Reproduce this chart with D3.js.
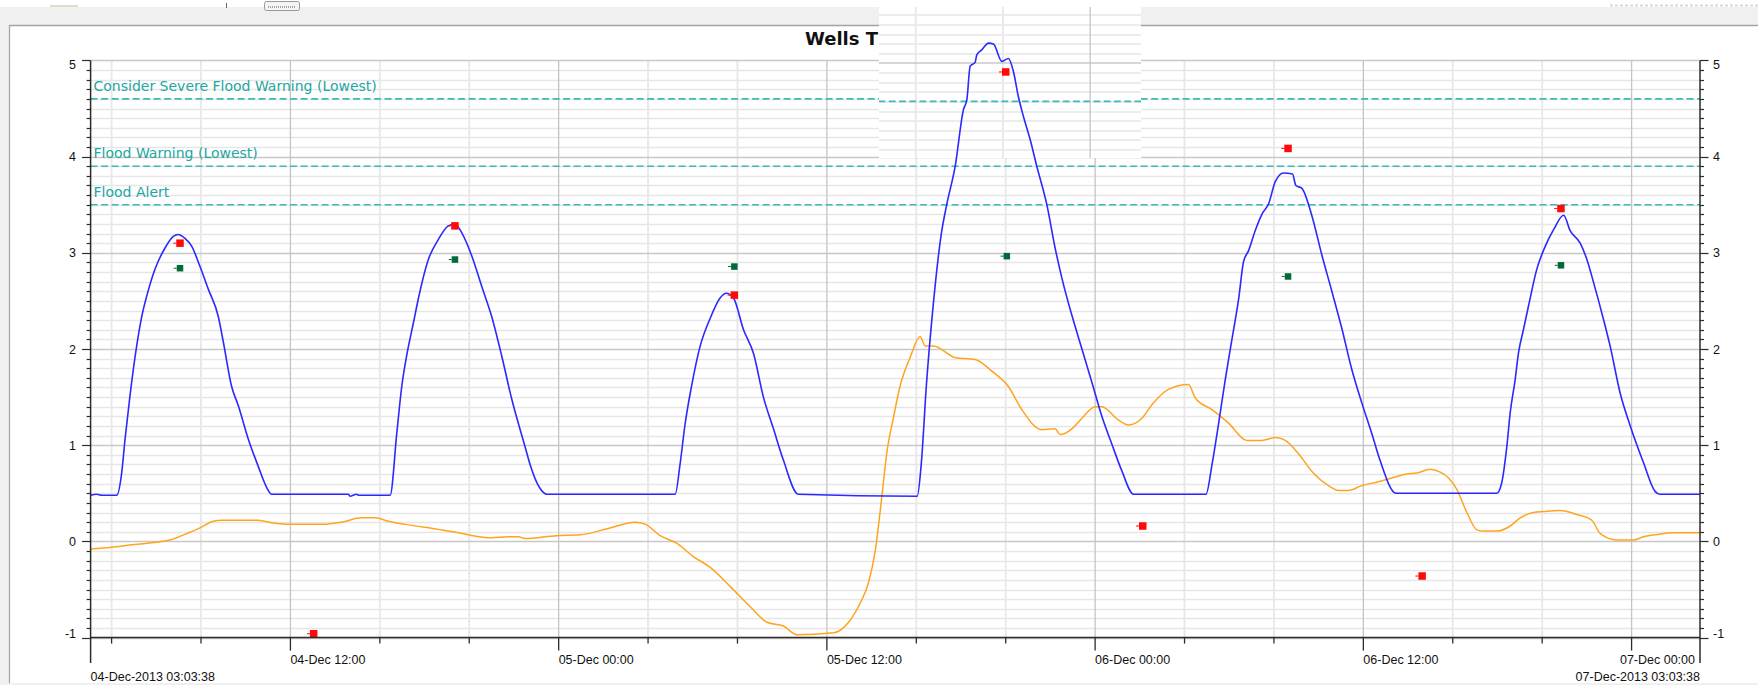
<!DOCTYPE html>
<html><head><meta charset="utf-8">
<script src="https://cdn.jsdelivr.net/npm/d3@7"></script>
<style>html,body{margin:0;padding:0;background:#fff;overflow:hidden}svg{display:block}</style>
</head><body>
<svg id="c" width="1758" height="685"></svg>
<script>
// ---------- DATA ----------
const chartTitle = "Wells Tide Gauge";
const startTime = "2013-12-04T03:03:38";
const endTime = "2013-12-07T03:03:38";
const yTicks = [-1, 0, 1, 2, 3, 4, 5];

// observed level (blue), hours after start
const levelHours = [0,0.27,0.5,1.17,1.39,1.54,1.76,2.06,2.29,2.51,2.88,3.33,3.70,3.92,4.22,4.52,4.89,5.27,5.71,5.94,6.31,6.61,7.06,7.50,7.88,8.10,11.53,11.6,11.9,12.0,13.40,13.70,13.92,14.14,14.44,14.66,15.11,15.56,16.00,16.30,16.60,17.05,17.50,17.94,18.39,18.84,19.43,19.66,20.11,20.41,26.15,26.37,26.59,26.89,27.27,27.72,28.16,28.43,28.76,29.21,29.66,30.10,30.55,31.00,31.66,36.98,37.16,37.39,37.69,38.06,38.30,38.68,39.05,39.20,39.35,39.57,39.65,39.87,40.17,40.39,40.77,41.06,41.28,41.50,41.73,42.03,42.33,42.78,43.15,43.45,43.90,44.35,44.80,45.24,45.69,46.14,46.66,49.90,50.17,50.46,50.76,51.06,51.36,51.58,51.80,52.10,52.40,52.70,53.00,53.37,53.77,53.92,54.19,54.63,55.08,55.53,55.98,56.42,56.87,57.32,57.69,58.40,62.91,63.13,63.36,63.51,63.73,63.88,64.10,64.33,64.70,65.08,65.45,65.90,66.19,66.64,66.94,67.24,67.68,67.98,68.43,68.88,69.47,69.99,70.20,72.00];
const levelValues = [0.48,0.49,0.48,0.48,0.71,1.06,1.51,2.03,2.34,2.55,2.83,3.05,3.17,3.19,3.15,3.07,2.86,2.62,2.34,2.07,1.61,1.41,1.06,0.78,0.56,0.49,0.49,0.47,0.49,0.48,0.48,1.13,1.61,1.93,2.27,2.52,2.93,3.14,3.28,3.30,3.21,2.97,2.65,2.34,1.93,1.48,0.99,0.80,0.55,0.49,0.49,0.80,1.21,1.62,2.03,2.32,2.53,2.58,2.53,2.20,1.95,1.50,1.17,0.84,0.49,0.47,0.80,1.62,2.44,3.20,3.50,3.90,4.49,4.59,4.94,4.98,5.06,5.11,5.18,5.17,4.99,5.02,4.89,4.63,4.42,4.18,3.90,3.50,3.05,2.74,2.35,2.00,1.65,1.30,1.01,0.73,0.49,0.49,0.80,1.22,1.68,2.10,2.52,2.91,3.02,3.23,3.40,3.51,3.74,3.83,3.82,3.70,3.67,3.39,2.98,2.60,2.21,1.79,1.44,1.12,0.84,0.50,0.50,0.61,0.99,1.34,1.68,1.96,2.20,2.45,2.83,3.07,3.24,3.39,3.23,3.10,2.93,2.69,2.31,2.03,1.54,1.20,0.82,0.52,0.49,0.49];

// residual / surge (orange)
const residualHours = [0,0.94,1.84,2.73,3.63,4.22,4.89,5.49,5.86,7.43,8.10,8.99,10.41,11.23,12.13,12.72,13.32,14.07,15.56,16.30,17.20,17.94,18.69,19.14,19.43,20.85,21.90,23.24,24.36,24.81,25.48,26.23,26.98,27.72,28.62,29.51,30.26,31.00,31.60,33.24,33.91,34.43,34.80,35.10,35.40,35.62,35.92,36.22,36.66,37.11,37.34,37.71,38.68,39.57,40.32,41.06,41.66,42.55,43.15,43.37,43.90,44.35,44.94,45.24,45.99,46.44,47.03,47.48,48.22,49.12,49.42,50.17,50.91,51.73,52.40,53.00,53.45,54.04,54.63,55.38,55.83,56.27,56.87,57.62,58.36,58.88,59.33,59.93,60.38,60.75,61.12,61.57,62.02,62.31,62.91,63.51,63.96,64.55,65.00,65.74,66.49,67.16,67.54,68.28,69.03,69.47,70.07,70.82,71.42,72.00];
const residualValues = [-0.08,-0.06,-0.035,-0.014,0.02,0.073,0.14,0.21,0.22,0.22,0.194,0.177,0.177,0.20,0.245,0.245,0.21,0.177,0.125,0.097,0.055,0.038,0.048,0.048,0.03,0.06,0.068,0.14,0.20,0.18,0.06,-0.02,-0.16,-0.27,-0.47,-0.68,-0.84,-0.88,-0.97,-0.95,-0.84,-0.64,-0.43,-0.10,0.47,0.92,1.29,1.62,1.91,2.13,2.03,2.03,1.91,1.89,1.77,1.61,1.37,1.16,1.17,1.11,1.17,1.28,1.40,1.40,1.26,1.21,1.28,1.42,1.58,1.63,1.49,1.37,1.23,1.05,1.05,1.08,1.05,0.91,0.73,0.58,0.53,0.53,0.58,0.62,0.67,0.70,0.71,0.75,0.72,0.66,0.54,0.30,0.12,0.107,0.107,0.16,0.245,0.30,0.31,0.32,0.28,0.22,0.08,0.014,0.014,0.048,0.072,0.09,0.09,0.09];

// forecast high/low waters (red)
const forecastHours = [4.0, 9.98, 16.3, 28.8, 40.94, 47.07, 53.57, 59.57, 65.78];
const forecastValues = [3.10, -0.96, 3.28, 2.56, 4.88, 0.16, 4.085, -0.36, 3.46];

// astronomical predictions (green)
const astroHours = [4.0, 16.3, 28.8, 40.99, 53.57, 65.78];
const astroValues = [2.84, 2.93, 2.857, 2.965, 2.754, 2.87];

// thresholds
const thresholdNames = ["Consider Severe Flood Warning (Lowest)", "Flood Warning (Lowest)", "Flood Alert"];
const thresholdValues = [4.6, 3.9, 3.5];

// ---------- CHART ----------
const W = 1758, H = 685;
const svg = d3.select("#c");
const parse = d3.timeParse("%Y-%m-%dT%H:%M:%S");
const t0 = parse(startTime), t1 = parse(endTime);
const at = h => new Date(t0.getTime() + h * 3600000);
const X0 = 90.6, X1 = 1700, YB = 637.6, YT = 60.4;
const x = d3.scaleTime().domain([t0, t1]).range([X0, X1]);
const y = d3.scaleLinear().domain([-1, 5]).range([YB, YT]);

const level = levelHours.map((h, i) => [at(h), levelValues[i]]);
const residual = residualHours.map((h, i) => [at(h), residualValues[i]]);
const forecast = forecastHours.map((h, i) => [at(h), forecastValues[i]]);
const astro = astroHours.map((h, i) => [at(h), astroValues[i]]);

const teal = "#3dbab5", tealText = "#21a7a2";
const axisFont = "'Liberation Sans', Arial, sans-serif";

// window frame
svg.append("rect").attr("width", W).attr("height", H).attr("fill", "#fff");
svg.append("rect").attr("x", 0).attr("y", 7).attr("width", W).attr("height", 18).attr("fill", "#f0f0f0");
svg.append("rect").attr("x", 0).attr("y", 25).attr("width", 9).attr("height", H - 25).attr("fill", "#f0f0f0");
svg.append("rect").attr("x", 0).attr("y", 683).attr("width", W).attr("height", 2).attr("fill", "#f0f0f0");
svg.append("line").attr("x1", 9).attr("x2", W).attr("y1", 25.5).attr("y2", 25.5).attr("stroke", "#a3a3a3").attr("stroke-width", 1.5);
svg.append("line").attr("x1", 9.5).attr("x2", 9.5).attr("y1", 25).attr("y2", 683).attr("stroke", "#a3a3a3").attr("stroke-width", 1.2);
// toolbar remnants
svg.append("rect").attr("x", 50).attr("y", 5).attr("width", 28).attr("height", 2).attr("fill", "#e4dcc8");
svg.append("line").attr("x1", 226.5).attr("x2", 226.5).attr("y1", 3).attr("y2", 8).attr("stroke", "#666");
svg.append("rect").attr("x", 264.5).attr("y", 1.5).attr("width", 35).attr("height", 9).attr("rx", 2)
  .attr("fill", "#f4f4f4").attr("stroke", "#999");
svg.append("line").attr("x1", 268).attr("x2", 296).attr("y1", 7).attr("y2", 7).attr("stroke", "#555").attr("stroke-dasharray", "1,1");
svg.append("line").attr("x1", 1610).attr("x2", 1758).attr("y1", 5.5).attr("y2", 5.5).attr("stroke", "#d8d8d8").attr("stroke-width", 2).attr("stroke-dasharray", "3,2");

// title
svg.append("text").attr("x", 805).attr("y", 44.5).text(chartTitle)
  .attr("font-family", "'DejaVu Sans', Verdana, sans-serif").attr("font-weight", "bold")
  .attr("font-size", 18).attr("fill", "#111");

const ticks4h = d3.timeHour.every(4).range(t0, t1);
const isMajor = d => d.getHours() % 12 === 0;

function drawGrid(g, vMin, vMax, yTop, yBot) {
  const vals = d3.range(Math.round(vMin * 10), Math.round(vMax * 10) + 1).map(i => i / 10);
  const minorV = vals.filter(v => Math.abs(v - Math.round(v)) > 1e-6);
  const majorV = vals.filter(v => Math.abs(v - Math.round(v)) <= 1e-6);
  g.append("g").selectAll("line").data(minorV).join("line")
    .attr("x1", X0).attr("x2", X1).attr("y1", d => Math.round(y(d)) + 0.5).attr("y2", d => Math.round(y(d)) + 0.5)
    .attr("stroke", "#e6e6e6").attr("stroke-width", 1.3);
  g.append("g").selectAll("line").data(ticks4h.filter(d => !isMajor(d))).join("line")
    .attr("x1", d => x(d)).attr("x2", d => x(d)).attr("y1", yTop).attr("y2", yBot)
    .attr("stroke", "#e9e9e9").attr("stroke-width", 2);
  g.append("g").selectAll("line").data(majorV).join("line")
    .attr("x1", X0).attr("x2", X1).attr("y1", d => Math.round(y(d)) + 0.5).attr("y2", d => Math.round(y(d)) + 0.5)
    .attr("stroke", "#c8c8c8").attr("stroke-width", 1.4);
  g.append("g").selectAll("line").data(ticks4h.filter(isMajor)).join("line")
    .attr("x1", d => x(d)).attr("x2", d => x(d)).attr("y1", yTop).attr("y2", yBot)
    .attr("stroke", "#c4c4c4").attr("stroke-width", 1.3);
}

function drawThresholds(g, withLabels) {
  thresholdValues.forEach((v, i) => {
    g.append("line").attr("x1", X0).attr("x2", X1).attr("y1", y(v)).attr("y2", y(v))
      .attr("stroke", teal).attr("stroke-width", 1.6).attr("stroke-dasharray", "7,3.5");
    if (withLabels) {
      g.append("text").attr("x", 93.5).attr("y", y(v) - 8).text(thresholdNames[i])
        .attr("font-family", "'DejaVu Sans', Verdana, sans-serif").attr("font-size", 14).attr("fill", tealText);
    }
  });
}

function drawSeries(g) {
  const line = d3.line().x(d => x(d[0])).y(d => y(d[1])).curve(d3.curveMonotoneX);
  g.append("path").datum(residual).attr("d", line).attr("fill", "none")
    .attr("stroke", "#ffa41f").attr("stroke-width", 1.5).attr("stroke-linejoin", "round");
  g.append("path").datum(level).attr("d", line).attr("fill", "none")
    .attr("stroke", "#2a2aff").attr("stroke-width", 1.6).attr("stroke-linejoin", "round");
  const markers = (data, color, s) => {
    const m = g.append("g").selectAll("g").data(data).join("g")
      .attr("transform", d => `translate(${x(d[0])},${y(d[1])})`);
    m.append("line").attr("x1", -s / 2 - 3).attr("x2", -s / 2).attr("y1", 0).attr("y2", 0)
      .attr("stroke", color).attr("stroke-width", 1);
    m.append("rect").attr("x", -s / 2).attr("y", -s / 2).attr("width", s).attr("height", s).attr("fill", color);
  };
  markers(astro, "#006a3a", 6.5);
  markers(forecast, "#ff0a0a", 7.5);
}

// clip for plot
const defs = svg.append("defs");
defs.append("clipPath").attr("id", "plotClip").append("rect")
  .attr("x", X0).attr("y", YT - 0.5).attr("width", X1 - X0).attr("height", YB - YT + 1);
defs.append("clipPath").attr("id", "patchClip").append("rect")
  .attr("x", 879).attr("y", 7).attr("width", 262).attr("height", 151);

const plot = svg.append("g");
drawGrid(plot, -1, 5, YT, YB);
const clipped = plot.append("g").attr("clip-path", "url(#plotClip)");
drawThresholds(clipped, true);
drawSeries(clipped);

// ---------- AXES ----------
const ax = svg.append("g").attr("font-family", axisFont).attr("font-size", 12.5).attr("fill", "#111");
const axisColor = "#2b2b2b";
const vTicks = d3.range(-10, 51).map(i => i / 10);
const isInt = d => Math.abs(d - Math.round(d)) < 1e-6;
ax.append("line").attr("x1", X0).attr("x2", X0).attr("y1", YT).attr("y2", 663).attr("stroke", axisColor).attr("stroke-width", 1.5);
ax.append("line").attr("x1", X1).attr("x2", X1).attr("y1", YT).attr("y2", 663).attr("stroke", axisColor).attr("stroke-width", 1.5);
ax.selectAll(".lt").data(vTicks).join("line")
  .attr("x1", d => X0 - (isInt(d) ? 8.5 : 4)).attr("x2", X0)
  .attr("y1", d => Math.round(y(d)) + 0.5).attr("y2", d => Math.round(y(d)) + 0.5).attr("stroke", axisColor).attr("stroke-width", 1.2);
ax.selectAll(".rt").data(vTicks).join("line")
  .attr("x1", X1).attr("x2", d => X1 + (isInt(d) ? 8.5 : 4))
  .attr("y1", d => Math.round(y(d)) + 0.5).attr("y2", d => Math.round(y(d)) + 0.5).attr("stroke", axisColor).attr("stroke-width", 1.2);
const labelY = d => y(d) + 4.5 + (d === 5 ? 4 : d === -1 ? -4 : 0);
ax.selectAll(".ll").data(yTicks).join("text").attr("x", 76).attr("y", labelY).attr("text-anchor", "end").text(d => d);
ax.selectAll(".rl").data(yTicks).join("text").attr("x", 1713).attr("y", labelY).text(d => d);

ax.append("line").attr("x1", X0).attr("x2", X1).attr("y1", YB).attr("y2", YB).attr("stroke", axisColor).attr("stroke-width", 1.5);
ax.selectAll(".bt").data(ticks4h).join("line")
  .attr("x1", d => x(d)).attr("x2", d => x(d)).attr("y1", YB).attr("y2", d => YB + (isMajor(d) ? 13 : 6))
  .attr("stroke", axisColor).attr("stroke-width", 1.3);
const fmt = d3.timeFormat("%d-%b %H:%M");
ax.selectAll(".bl").data(ticks4h.filter(isMajor)).join("text")
  .attr("x", d => x(d)).attr("y", 663.5).text(d => fmt(d))
  .each(function (d) {
    const w = this.getComputedTextLength();
    if (x(d) + w > X1 - 4) d3.select(this).attr("x", X1 - 5).attr("text-anchor", "end");
  });
const fmtFull = d3.timeFormat("%d-%b-%Y %H:%M:%S");
ax.append("text").attr("x", X0).attr("y", 681).text(fmtFull(t0));
ax.append("text").attr("x", X1).attr("y", 681).attr("text-anchor", "end").text(fmtFull(t1));

// ---------- screen-capture patch (redrawn region, slightly offset grid) ----------
const patch = svg.append("g").attr("clip-path", "url(#patchClip)");
patch.append("rect").attr("x", 879).attr("y", 7).attr("width", 262).attr("height", 151).attr("fill", "#fff");
const shifted = patch.append("g").attr("transform", "translate(22.4,2.5) scale(0.975,1)");
drawGrid(shifted, 3.8, 5.8, y(5.8), y(3.8));
drawThresholds(shifted, false);
drawSeries(patch);
</script>
</body></html>
